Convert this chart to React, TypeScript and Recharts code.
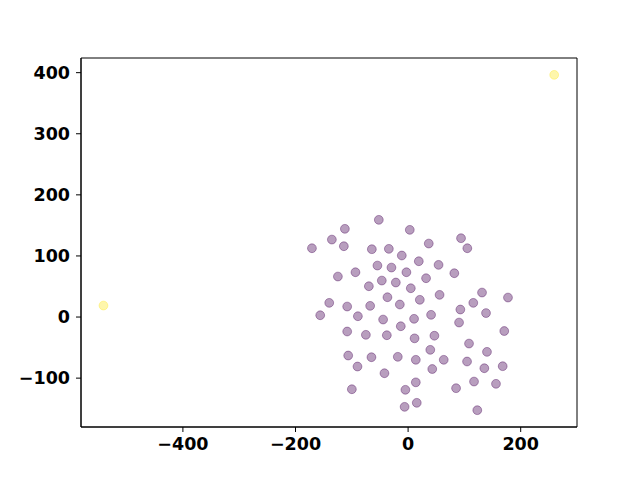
import { ScatterChart, Scatter, XAxis, YAxis, ReferenceArea } from 'recharts'

// main cluster (viridis low end)
const clusterX = [
  -52.0, -112.3, 3.0, -135.4, -170.8, -114.1, -64.4, -34.2, 36.7, -11.2,
  19.0, 54.1, -54.5, -29.6, -93.5, -124.7, -3.0, 31.9, -46.7, -21.8,
  -69.7, 4.8, -36.7, 20.8, 55.9, -140.1, -108.2, -67.4, -14.7, -156.1,
  -89.2, -44.4, 10.6, 40.8, -13.0, -108.2, 94.0, 105.2, 82.1, 131.3,
  177.4, 115.8, 92.8, 138.4, 90.5, 170.8, -75.0, -37.8, 11.5, 46.7,
  39.4, -106.4, -65.1, -18.3, 13.7, -89.9, -42.0, 42.9, -99.9, -4.8,
  13.7, -6.2, 15.4, 108.2, 140.1, 63.3, 104.7, 135.4, 168.0, 117.1,
  85.2, 156.1, 122.9,
]
const clusterY = [
  159.1, 144.4, 142.7, 126.8, 112.6, 115.9, 111.0, 111.6, 120.3, 100.7,
  91.3, 85.4, 84.3, 81.0, 73.3, 66.3, 73.3, 63.5, 59.7, 56.5,
  50.4, 47.1, 32.4, 28.2, 36.3, 23.2, 17.2, 18.3, 20.5, 2.9,
  1.3, -4.1, -2.9, 3.6, -15.1, -23.7, 129.0, 112.6, 71.7, 40.1,
  31.9, 23.2, 12.3, 6.5, -9.0, -22.9, -29.1, -29.8, -34.9, -30.6,
  -53.7, -63.0, -65.8, -65.1, -70.0, -81.0, -92.0, -85.1, -118.2, -119.1,
  -106.9, -147.0, -140.4, -43.4, -57.0, -70.0, -72.8, -83.8, -80.5, -105.6,
  -116.5, -109.3, -152.5,
]
// outliers (viridis high end)
const outlierX = [-541.1, 259.5]
const outlierY = [18.8, 396.4]

const xTicks = [-400, -200, 0, 200]
const yTicks = [-100, 0, 100, 200, 300, 400]

const cluster = clusterX.map((x, i) => ({ x, y: clusterY[i] }))
const outliers = outlierX.map((x, i) => ({ x, y: outlierY[i] }))

const minus = (v: number) => String(v).replace('-', '\u2212')
const tickStyle = { fontSize: 17.5, fontWeight: 'bold', fill: '#000', fontFamily: 'DejaVu Sans' }

const dot = (color: string) => (p: any) => (
  <circle cx={p.cx} cy={p.cy} r={4.4} fill={color} fillOpacity={0.38}
    stroke={color} strokeOpacity={0.38} strokeWidth={1} />
)

export default function App() {
  return (
    <div style={{ position: 'absolute', left: 0, top: 0, width: 640, height: 480, background: '#fff' }}>
      <ScatterChart width={640} height={480} margin={{ top: 58, right: 63, left: 0, bottom: 0 }}>
        <XAxis type="number" dataKey="x" domain={[-581, 300]} ticks={xTicks} allowDataOverflow
          tickFormatter={minus} tick={tickStyle} height={53} tickSize={5} tickMargin={6}
          axisLine={{ stroke: '#000' }} tickLine={{ stroke: '#000' }} />
        <YAxis type="number" dataKey="y" domain={[-180, 424]} ticks={yTicks} allowDataOverflow
          tickFormatter={minus} tick={tickStyle} width={81} tickSize={5} tickMargin={6}
          axisLine={{ stroke: '#000' }} tickLine={{ stroke: '#000' }} />
        <ReferenceArea x1={-581} x2={300} y1={-180} y2={424} fill="none" stroke="#000" strokeWidth={1} />
        <Scatter data={cluster} shape={dot('#440154')} isAnimationActive={false} />
        <Scatter data={outliers} shape={dot('#fde725')} isAnimationActive={false} />
      </ScatterChart>
    </div>
  )
}
